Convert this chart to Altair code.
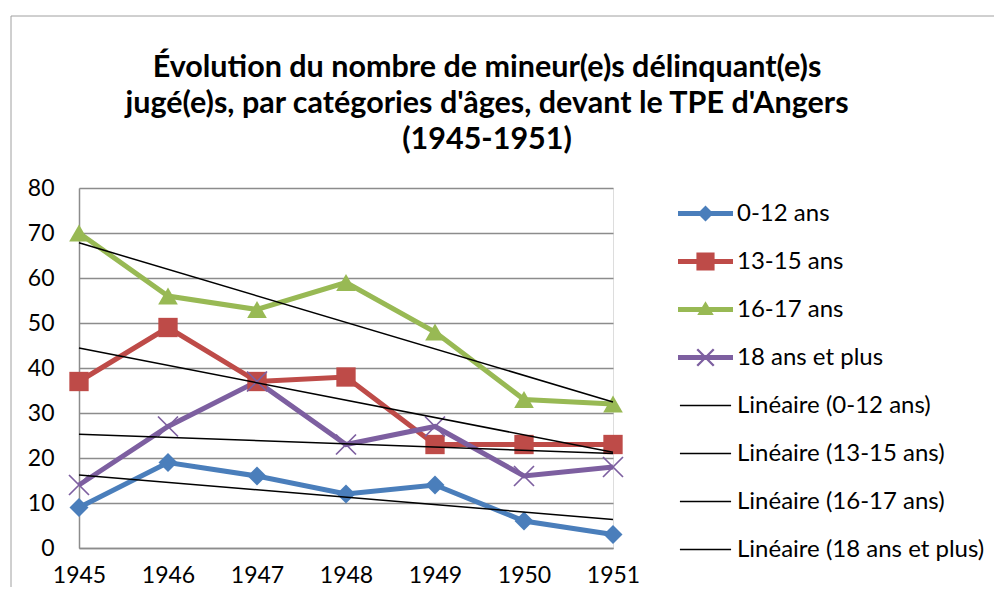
import altair as alt
import pandas as pd

years = [1945, 1946, 1947, 1948, 1949, 1950, 1951]
series_names = ["0-12 ans", "13-15 ans", "16-17 ans", "18 ans et plus"]
v_0_12 = [9, 19, 16, 12, 14, 6, 3]
v_13_15 = [37, 49, 37, 38, 23, 23, 23]
v_16_17 = [70, 56, 53, 59, 48, 33, 32]
v_18_plus = [14, 27, 37, 23, 27, 16, 18]
y_ticks = [0, 10, 20, 30, 40, 50, 60, 70, 80]
trend_labels = ["Linéaire (0-12 ans)", "Linéaire (13-15 ans)",
                "Linéaire (16-17 ans)", "Linéaire (18 ans et plus)"]
legend_labels = series_names + trend_labels
title_lines = ["Évolution du nombre de mineur(e)s  délinquant(e)s",
               "jugé(e)s, par catégories d'âges, devant le TPE d'Angers",
               "(1945-1951)"]

colors = ["#4a7ebb", "#be4b48", "#98b954", "#7d5fa0"]
FONT = "Lato"
GRID = "#8c8c8c"

rows = []
for name, vals in zip(series_names, [v_0_12, v_13_15, v_16_17, v_18_plus]):
    for yr, v in zip(years, vals):
        rows.append({"year": yr, "value": v, "series": name})
df = pd.DataFrame(rows)

x_shape = ("M-0.94,-1.06L1.06,0.94L0.94,1.06L-1.06,-0.94Z "
           "M-1.06,0.94L0.94,-1.06L1.06,-0.94L-0.94,1.06Z")
point_shapes = ["diamond", "square", "triangle-up", x_shape]
point_sizes = [360, 400, 480, 400]

leg_diamond = "M-1,-0.09H-0.2L0,-0.29L0.2,-0.09H1V0.09H0.2L0,0.29L-0.2,0.09H-1Z"
leg_square = "M-1,-0.09H-0.33V-0.33H0.33V-0.09H1V0.09H0.33V0.33H-0.33V0.09H-1Z"
leg_tri = "M-1,-0.09H-0.126L0,-0.3L0.126,-0.09H1V0.09H0.234L0.3,0.2H-0.3L-0.234,0.09H-1Z"
leg_x = ("M-1,-0.09H1V0.09H-1Z "
         "M-0.27,-0.33L0.33,0.27L0.27,0.33L-0.33,-0.27Z "
         "M-0.33,0.27L0.27,-0.33L0.33,-0.27L-0.27,0.33Z")
leg_line = "M-0.93,-0.03H0.93V0.03H-0.93Z"
legend_shapes = [leg_diamond, leg_square, leg_tri, leg_x] + [leg_line] * 4
legend_colors = colors + ["black"] * 4

x_enc = alt.X("year:Q", title=None,
              scale=alt.Scale(domain=[1945, 1951], nice=False, zero=False),
              axis=alt.Axis(values=years, format="d", grid=False, ticks=False,
                            domainColor=GRID, domainWidth=1.5,
                            labelFont=FONT, labelFontSize=23, labelColor="black",
                            labelPadding=16, labelFlush=False))
y_enc = alt.Y("value:Q", title=None,
              scale=alt.Scale(domain=[0, 80], nice=False),
              axis=alt.Axis(values=y_ticks, grid=True, gridColor=GRID, gridWidth=1.5,
                            ticks=False, domainColor=GRID, domainWidth=1.5,
                            labelFont=FONT, labelFontSize=23, labelColor="black",
                            labelPadding=25))

base = alt.Chart(df).encode(x=x_enc, y=y_enc)

col_scale = alt.Scale(domain=series_names, range=colors)

lines = base.mark_line(strokeWidth=5).encode(
    color=alt.Color("series:N", scale=col_scale, legend=None))

points = base.mark_point(filled=True, opacity=1).encode(
    color=alt.Color("series:N", scale=col_scale, legend=None),
    shape=alt.Shape("series:N", scale=alt.Scale(domain=series_names, range=point_shapes), legend=None),
    size=alt.Size("series:N", scale=alt.Scale(domain=series_names, range=point_sizes), legend=None),
)

trend = base.transform_regression("year", "value", groupby=["series"]).mark_line(
    color="black", strokeWidth=1.5).encode(detail="series:N")

leg = alt.Legend(title=None, orient="none", legendX=599, legendY=-2, direction="vertical",
                 labelFont=FONT, labelFontSize=24, labelColor="black", labelLimit=400,
                 symbolSize=3025, symbolStrokeWidth=0, labelOffset=4,
                 rowPadding=8, padding=0, symbolOpacity=1)
legend_df = pd.DataFrame({"key": legend_labels})
legend_layer = alt.Chart(legend_df).transform_filter("false").mark_point(filled=True).encode(
    color=alt.Color("key:N", scale=alt.Scale(domain=legend_labels, range=legend_colors), legend=leg),
    shape=alt.Shape("key:N", scale=alt.Scale(domain=legend_labels, range=legend_shapes), legend=leg),
)

one = pd.DataFrame({"a": [0]})
frame_top = alt.Chart(one).mark_rule(color="#a0a0a0", strokeWidth=1).encode(
    x=alt.value(-68), x2=alt.value(915), y=alt.value(-172))
frame_left = alt.Chart(one).mark_rule(color="#a0a0a0", strokeWidth=1).encode(
    x=alt.value(-68), y=alt.value(-172), y2=alt.value(399))

chart = alt.layer(frame_top, frame_left, lines, points, trend, legend_layer).resolve_scale(
    color="independent", shape="independent", size="independent"
).properties(
    width=534, height=360,
    padding={"left": 2, "top": 7, "right": 0, "bottom": 0},
    title=alt.TitleParams(text=title_lines, font=FONT, fontSize=30.5, fontWeight="bold",
                          color="black", lineHeight=36, anchor="middle", frame="group",
                          dx=141, offset=-140),
).configure_view(stroke=None).configure(background="white")

chart.save("out.html", embed_options={"renderer": "svg", "actions": False})
